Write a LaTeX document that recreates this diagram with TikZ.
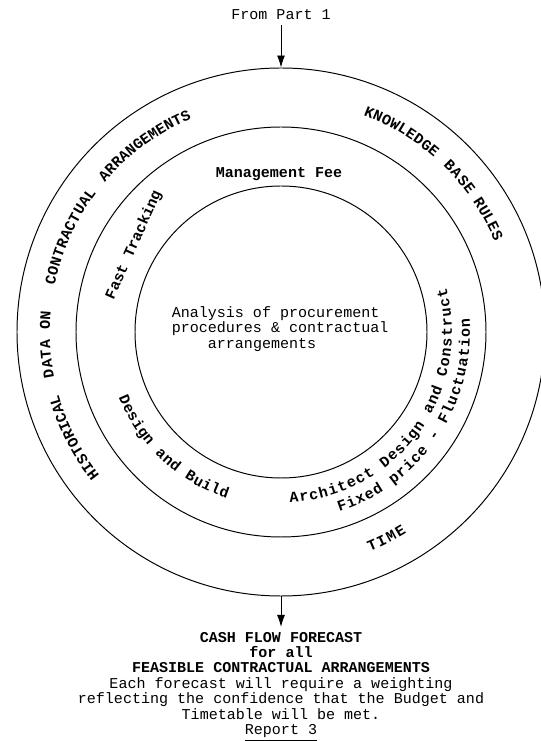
\documentclass[tikz,border=0pt]{standalone}
\usepackage{fontspec}
\setmainfont{Liberation Mono}
\usetikzlibrary{decorations.text,arrows.meta}
\newcommand\ringfont{\fontsize{10.7}{12}\selectfont\bfseries}

\begin{document}
\begin{tikzpicture}[
		ring/.style={draw, circle, inner sep=0pt, line width=0.7pt},
		txt/.style={font=\fontsize{10.7}{11}\selectfont},
		ringtxt/.style={font=\ringfont},
		feed/.style={-{Latex[length=3mm, width=2mm]}, line width=0.7pt}]
		\useasboundingbox (0, 0) rectangle (13.5, 18.525);
		\coordinate (C) at (7.025, 10.225);

		\node[ring, minimum size=7.3cm] (inner) at (C) {};
		\node[ring, minimum size=10.25cm] (middle) at (C) {};
		\node[ring, minimum size=13.2cm] (outer) at (C) {};

		\node[txt] (part) at (7.025, 18.15) {From Part 1};
		\node[txt, align=center, anchor=north] (cash) at (7.025, 2.85) {\textbf{CASH FLOW FORECAST}\\ \textbf{for all}\\ \textbf{FEASIBLE CONTRACTUAL ARRANGEMENTS}\\ Each forecast will require a weighting\\ reflecting the confidence that the Budget and\\ Timetable will be met.\\ \underline{Report 3}};
		\draw[feed] (part) -- (outer.north);
		\draw[feed] (outer.south) -- (cash);

		\node[txt, align=left, anchor=west] (analysis) at (4.17, 10.3) {Analysis of procurement\\ procedures \& contractual\\ \hphantom{xxxx}arrangements};
		\node[ringtxt] (fee) at (6.975, 14.175) {Management Fee};
		\node[ringtxt, rotate=66] (fast) at (3.35, 12.4) {Fast Tracking};

		% words on the outer ring, then the lines of the middle ring
		\foreach \w/\a/\b/\r in {HISTORICAL/218.3/195.7/5.78, DATA/191.3/181.8/5.78, ON/179.5/175/5.78, CONTRACTUAL/168.3/143/5.78, ARRANGEMENTS/139.6/113.2/5.78, KNOWLEDGE/69.2/48.7/5.8, BASE/45.7/36.2/5.8, RULES/34.2/23/5.8, TIME/292/302/5.925, Design and Build/202/252/4.375, Architect Design and Construct/273/375/4.275, Fixed price - Fluctuation/288/364/4.725}
			\path[decorate, decoration={text along path, text/.expanded={|\noexpand\ringfont|\w}, text align=fit to path}] (C) ++(\a:\r) arc[start angle=\a, end angle=\b, radius=\r];

	\end{tikzpicture}
\end{document}
